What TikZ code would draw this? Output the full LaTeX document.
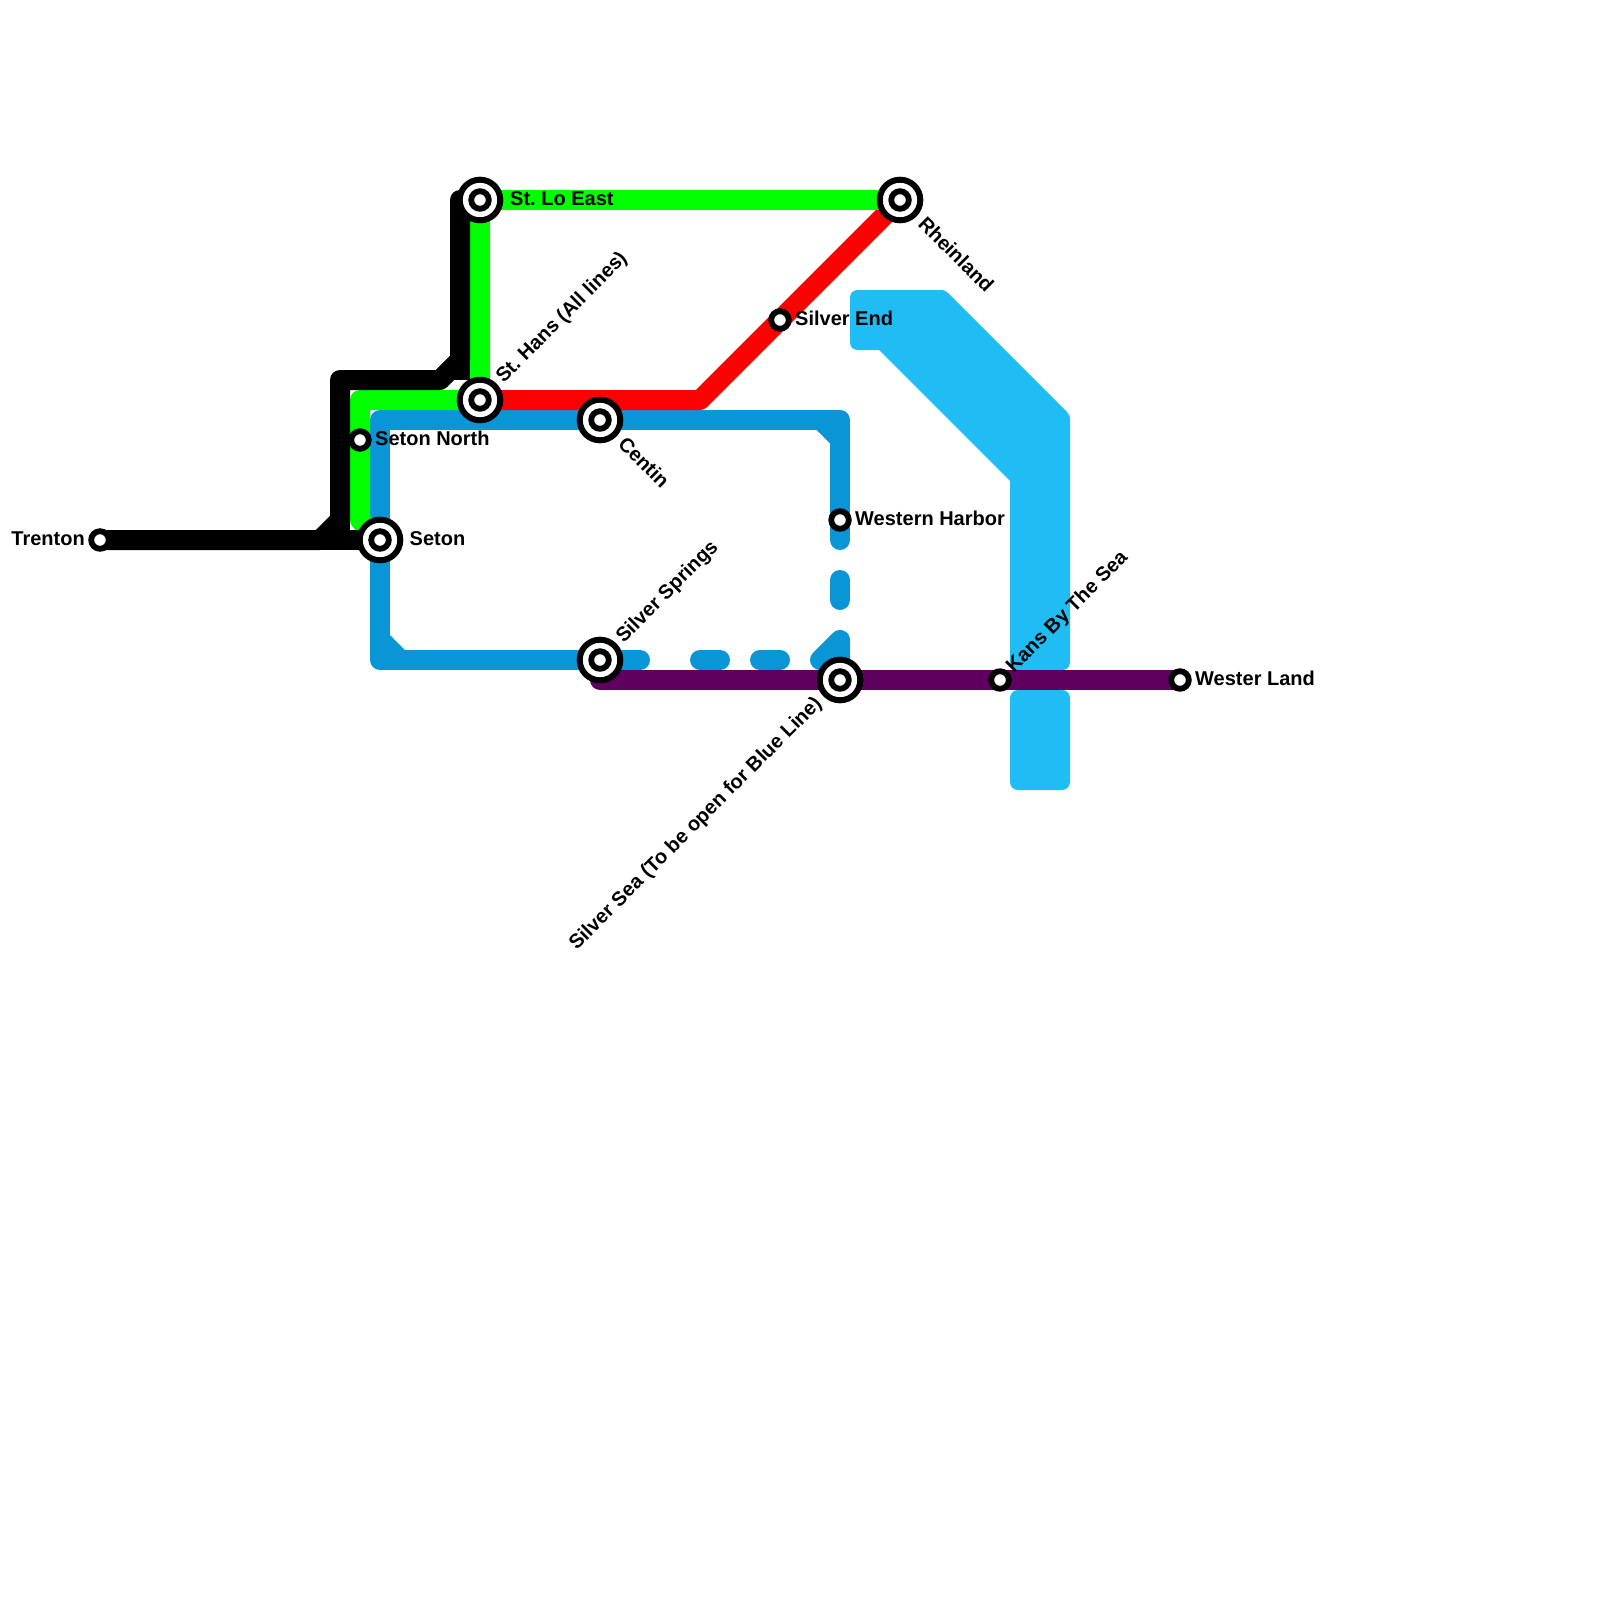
\documentclass[tikz,border=0pt]{standalone}
\usepackage{fontspec}
\setmainfont{Liberation Sans}[BoldFont={* Bold}]
\usetikzlibrary{calc}
\definecolor{lblue}{HTML}{0A96D6}
\definecolor{sblue}{HTML}{20BDF5}
\definecolor{lgreen}{HTML}{00FF00}
\definecolor{lred}{HTML}{FF0000}
\definecolor{lpurple}{HTML}{5F005F}
\tikzset{
  metro/.style={line width=20pt,line cap=round,line join=round},
  xring/.style={circle,draw=black,fill=white,line width=6pt,minimum size=40.6pt,inner sep=0pt,outer sep=0pt},
  oring/.style={circle,draw=black,fill=white,line width=5.8pt,minimum size=17.6pt,inner sep=0pt,outer sep=0pt},
  lab/.style={font=\bfseries\fontsize{20}{22}\selectfont,text=black,inner sep=0pt},
}
\begin{document}
\begin{tikzpicture}[x=1pt,y=-1pt]
\useasboundingbox[fill=white] (0,0) rectangle (1600,1600);
% named positions
\coordinate (trenton) at (100,540);
\coordinate (seton) at (380,540);
\coordinate (setonn) at (360,440);
\coordinate (sthans) at (480,400);
\coordinate (stlo) at (480,200);
\coordinate (rhein) at (900,200);
\coordinate (silvend) at (780,320);
\coordinate (centin) at (600,420);
\coordinate (wharb) at (840,520);
\coordinate (sspr) at (600,660);
\coordinate (ssea) at (840,680);
\coordinate (kans) at (1000,680);
\coordinate (wland) at (1180,680);
% wide light blue band
\fill[sblue] (858,290) -- (940,290) .. controls (944,290) and (946,291) .. (948,293) -- (1067,412) .. controls (1069,414) and (1070,416) .. (1070,420) -- (1070,662) .. controls (1070,667) and (1067,670) .. (1062,670) -- (1018,670) .. controls (1013,670) and (1010,667) .. (1010,662) -- (1010,481) -- (879,350) -- (858,350) .. controls (853,350) and (850,347) .. (850,342) -- (850,298) .. controls (850,293) and (853,290) .. (858,290) -- cycle;
\fill[sblue,rounded corners=8pt] (1010,690) rectangle (1070,790);
% blue
\draw[metro,lblue] (centin) -- (380,420) -- (seton);
\draw[metro,lblue] (centin) -- (840,420) -- (wharb) -- (840,540);
\fill[lblue] (816.7,430) -- (830,430) -- (830,443.3) -- cycle;
\draw[metro,lblue] (seton) -- (380,660) -- (sspr) -- (640,660);
\fill[lblue] (390,635) -- (390,650) -- (405,650) -- cycle;
\draw[metro,lblue] (840,580) -- (840,600);
\draw[metro,lblue] (700,660) -- (720,660);
\draw[metro,lblue] (760,660) -- (780,660);
\draw[metro,lblue] (820,660) -- (840,640) -- (ssea);
\fill[lblue] (820,660) -- (840,640) -- (ssea) -- cycle;
% red
\draw[metro,lred] (sthans) -- (700,400) -- (rhein);
% green
\draw[metro,lgreen] (stlo) -- (rhein);
\draw[metro,lgreen] (stlo) -- (sthans) -- (360,400) -- (360,520) -- (seton);
% black
\draw[metro,black] (trenton) -- (320,540) -- (340,520) -- (340,380) -- (440,380) -- (460,360) -- (460,200);
\draw[metro,black] (320,540) -- (seton);
\draw[metro,black] (340,520) -- (340,540);
\fill[black] (436,370) -- (450,370) -- (450,356) -- cycle;
\fill[black] (450,360) -- (470,360) -- (470,380) -- (450,380) -- cycle;
% purple
\draw[metro,lpurple] (600,680) -- (ssea) -- (kans) -- (wland);
% stations
\foreach \n in {seton,sthans,stlo,rhein,centin,sspr,ssea}{
  \node[xring] (\n-o) at (\n) {};
  \node[oring] (\n-i) at (\n) {};
}
\foreach \n in {trenton,setonn,silvend,wharb,kans,wland}{
  \node[oring] (\n-s) at (\n) {};
}
% labels
\node[lab,anchor=east] (t-trenton) at (85,539) {Trenton};
\node[lab,anchor=west] (t-seton) at (409.5,539) {Seton};
\node[lab,anchor=west] (t-setonn) at (375,438) {Seton North};
\node[lab,anchor=west] (t-stlo) at (510,199) {St.\ Lo East};
\node[lab,anchor=west] (t-silvend) at (795,318) {Silver End};
\node[lab,anchor=west] (t-wharb) at (855,518) {Western Harbor};
\node[lab,anchor=west] (t-wland) at (1195,678) {Wester Land};
\node[lab,anchor=west,rotate=-45] (t-rhein) at (922,220) {Rheinland};
\node[lab,anchor=west,rotate=-45] (t-centin) at (622,440) {Centin};
\node[lab,anchor=west,rotate=45] (t-sthans) at (500,380) {St.\ Hans (All lines)};
\node[lab,anchor=west,rotate=45] (t-sspr) at (620,640) {Silver Springs};
\node[lab,anchor=west,rotate=45] (t-kans) at (1010,670) {Kans By The Sea};
\node[lab,anchor=east,rotate=45] (t-ssea) at (819,701) {Silver Sea (To be open for Blue Line)};
\end{tikzpicture}
\end{document}
